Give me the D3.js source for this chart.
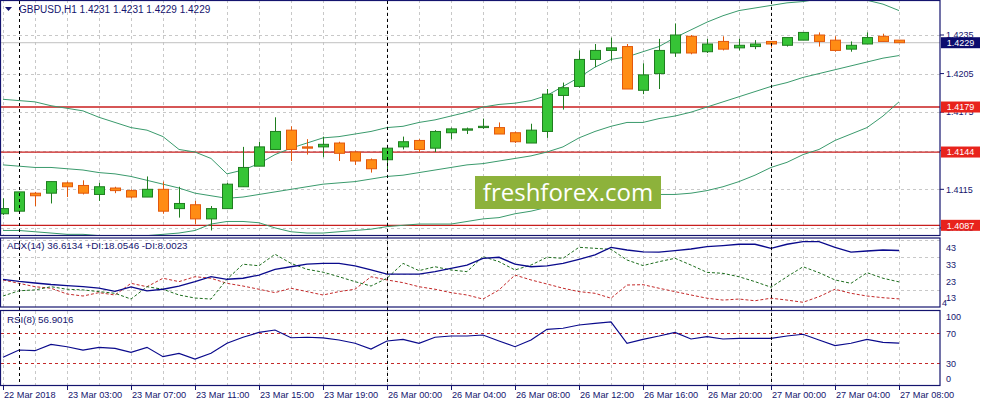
<!DOCTYPE html>
<html>
<head>
<meta charset="utf-8">
<script src="https://cdn.jsdelivr.net/npm/d3@7"></script>
<style>
  body { margin: 0; background: #ffffff; }
  svg text { font-family: "Liberation Sans", Arial, sans-serif; }
</style>
</head>
<body>
<div id="chart"></div>
<script>

// GBPUSD H1, 22 Mar 23:00 .. 27 Mar 08:00 (57 bars)
let opens = [1.4096,1.4098,1.4112,1.4112,1.4120,1.4118,1.4111,1.4116,1.4114,1.4109,
             1.4115,1.4100,1.4103,1.4092,1.4100,1.4117,1.4133,1.4146,1.4161,1.4148,
             1.4148,1.4151,1.4144,1.4138,1.4138,1.4148,1.4153,1.4147,1.4159,1.4161,
             1.4163,1.4163,1.4159,1.4151,1.4160,1.4188,1.4195,1.4216,1.4223,1.4226,
             1.4192,1.4205,1.4221,1.4234,1.4222,1.4230,1.4225,1.4226,1.4230,1.4227,
             1.4231,1.4235,1.4231,1.4224,1.4228,1.4234,1.4231];
let highs = [1.4108,1.4113,1.4113,1.4121,1.4121,1.4122,1.4120,1.4117,1.4115,1.4125,
             1.4121,1.4117,1.4106,1.4102,1.4120,1.4148,1.4152,1.4171,1.4164,1.4154,
             1.4156,1.4152,1.4145,1.4139,1.4147,1.4156,1.4154,1.4161,1.4163,1.4163,
             1.4170,1.4167,1.4160,1.4166,1.4193,1.4198,1.4223,1.4228,1.4233,1.4228,
             1.4213,1.4232,1.4244,1.4235,1.4232,1.4234,1.4232,1.4231,1.4230,1.4233,
             1.4237,1.4237,1.4234,1.4230,1.4237,1.4236,1.4231];
let lows = [1.4095,1.4098,1.4102,1.4104,1.4109,1.4111,1.4106,1.4112,1.4108,1.4109,
            1.4096,1.4093,1.4088,1.4083,1.4100,1.4117,1.4133,1.4146,1.4137,1.4142,
            1.4140,1.4137,1.4134,1.4128,1.4129,1.4146,1.4144,1.4144,1.4154,1.4158,
            1.4162,1.4158,1.4151,1.4151,1.4155,1.4177,1.4194,1.4210,1.4215,1.4193,
            1.4189,1.4193,1.4218,1.4220,1.4221,1.4223,1.4223,1.4224,1.4225,1.4226,
            1.4231,1.4226,1.4222,1.4222,1.4228,1.4230,1.4229];
let closes = [1.4100,1.4113,1.4110,1.4121,1.4117,1.4112,1.4117,1.4114,1.4109,1.4115,
              1.4098,1.4104,1.4092,1.4100,1.4119,1.4132,1.4148,1.4160,1.4146,1.4147,
              1.4150,1.4143,1.4137,1.4131,1.4147,1.4152,1.4146,1.4160,1.4162,1.4162,
              1.4164,1.4158,1.4152,1.4161,1.4189,1.4194,1.4216,1.4223,1.4225,1.4193,
              1.4204,1.4223,1.4235,1.4221,1.4228,1.4224,1.4227,1.4228,1.4228,1.4233,
              1.4237,1.4230,1.4223,1.4227,1.4233,1.4230,1.4229];

// Bollinger bands
let bbUpper = [1.4185,1.4184,1.4183,1.4180,1.4178,1.4176,1.4171,1.4167,1.4163,1.4161,
               1.4156,1.4146,1.4144,1.4139,1.4127,1.4130,1.4135,1.4142,1.4147,1.4151,
               1.4155,1.4156,1.4158,1.4160,1.4163,1.4164,1.4167,1.4169,1.4172,1.4175,
               1.4179,1.4181,1.4182,1.4184,1.4188,1.4195,1.4202,1.4210,1.4216,1.4218,
               1.4222,1.4226,1.4233,1.4239,1.4245,1.4250,1.4254,1.4256,1.4258,1.4260,
               1.4261,1.4263,1.4264,1.4263,1.4262,1.4259,1.4254];
let bbMiddle = [1.4134,1.4133,1.4132,1.4132,1.4131,1.4130,1.4128,1.4127,1.4125,1.4122,
                1.4119,1.4116,1.4112,1.4110,1.4108,1.4109,1.4111,1.4113,1.4115,1.4117,
                1.4119,1.4120,1.4121,1.4123,1.4125,1.4126,1.4128,1.4130,1.4132,1.4134,
                1.4135,1.4137,1.4139,1.4141,1.4144,1.4148,1.4155,1.4160,1.4164,1.4167,
                1.4167,1.4170,1.4172,1.4175,1.4179,1.4183,1.4187,1.4191,1.4195,1.4198,
                1.4202,1.4205,1.4208,1.4211,1.4214,1.4217,1.4219];
let bbLower = [1.4083,1.4083,1.4082,1.4081,1.4080,1.4080,1.4079,1.4079,1.4079,1.4079,
               1.4080,1.4081,1.4083,1.4088,1.4090,1.4090,1.4089,1.4085,1.4082,1.4081,
               1.4081,1.4082,1.4083,1.4084,1.4086,1.4087,1.4088,1.4088,1.4088,1.4090,
               1.4092,1.4093,1.4096,1.4098,1.4101,1.4104,1.4107,1.4109,1.4111,1.4111,
               1.4112,1.4111,1.4111,1.4112,1.4114,1.4117,1.4121,1.4126,1.4132,1.4136,
               1.4142,1.4146,1.4153,1.4158,1.4163,1.4172,1.4183];

// ADX(14)
let adx = [19.5,18.3,17.4,16.5,15.9,15.3,14.4,12.5,15.1,12.7,
           13.7,15.6,18.2,21.2,19.6,20.2,22.1,25.5,27.0,28.5,
           29.0,29.0,27.5,25.1,22.7,22.7,22.7,24.1,26.1,28.0,
           32.0,32.6,28.5,27.0,27.5,29.0,31.4,34.0,38.5,36.9,
           35.8,35.6,36.5,37.5,38.9,39.5,40.3,40.3,37.9,40.3,
           41.8,41.8,38.5,35.6,36.3,36.9,36.6];
let plusDI = [9.7,12.8,13.3,15.2,13.7,13.3,12.3,11.3,7.9,15.2,
              13.7,10.3,8.5,7.9,19.6,28.5,27.6,34.4,29.0,25.5,
              23.8,21.1,18.2,15.6,20.2,29.0,24.7,27.0,25.1,24.1,
              33.0,30.0,25.1,28.0,32.6,32.0,38.5,37.9,37.3,31.0,
              27.7,30.0,32.0,28.0,23.7,23.1,21.1,18.2,14.9,21.1,
              27.0,23.5,19.2,17.2,23.5,20.2,18.05];
let minusDI = [19.2,17.2,15.2,14.3,10.9,9.7,11.7,10.3,17.2,15.2,
               20.2,18.2,21.1,20.2,17.2,15.6,13.7,11.7,14.3,12.3,
               10.3,12.3,13.7,21.1,19.2,17.6,15.2,13.7,11.7,10.3,
               7.9,13.3,22.1,19.2,16.8,14.3,12.3,11.3,8.4,16.2,
               16.4,14.3,12.3,10.3,8.4,7.3,7.9,6.9,8.4,7.3,
               6.0,9.3,13.7,11.3,9.7,8.7,8.0];

// RSI(8)
let rsi = [38.0,47.7,46.8,55.3,52.1,47.7,51.3,50.0,44.7,51.3,
           38.8,43.3,35.7,43.3,56.7,64.7,71.3,74.4,64.1,64.7,
           64.0,61.1,56.7,49.1,59.7,62.0,56.7,64.7,66.4,66.4,
           67.7,59.7,52.1,61.1,75.3,76.7,81.1,83.3,85.1,56.7,
           62.0,66.4,71.3,62.4,65.5,62.4,63.3,63.3,63.3,66.4,
           68.7,61.1,53.5,56.7,62.0,58.0,56.9];

let timeLabels = ["22 Mar 2018","23 Mar 03:00","23 Mar 07:00","23 Mar 11:00","23 Mar 15:00",
                  "23 Mar 19:00","26 Mar 00:00","26 Mar 04:00","26 Mar 08:00","26 Mar 12:00",
                  "26 Mar 16:00","26 Mar 20:00","27 Mar 00:00","27 Mar 04:00","27 Mar 08:00"];
let timeLabelIdx = [0,4,8,12,16,20,24,28,32,36,40,44,48,52,56];
let daySeparators = [1,24,48];

let priceTicks = ["1.4235","1.4205","1.4175","1.4145","1.4115","1.4085"];
let levels = [1.4179, 1.4144, 1.4087];
let lastPrice = 1.4229;
let adxTicks = [43,33,23,13];
let rsiTicks = [100,70,30,0];
let rsiLevels = [70,30];

let header = "GBPUSD,H1  1.4231 1.4231 1.4229 1.4229";
let adxHeader = "ADX(14) 36.6134 +DI:18.0546 -DI:8.0023";
let rsiHeader = "RSI(8) 56.9016";

//////////////////////////////////////////////////////////////

let navy = "#14146e";
let right = 940;
let panels = {
  main: {top: 0.5, bottom: 235.5},
  adx:  {top: 238, bottom: 307},
  rsi:  {top: 310.5, bottom: 385.5}
};

let svg = d3.select("#chart").append("svg")
  .attr("width", 981)
  .attr("height", 401)
  .style("background", "#ffffff");

let x = d3.scaleLinear().domain([0, 56]).range([3, 899]);
let y = d3.scaleLinear().domain([1.4085, 1.4235]).range([227.9, 35]);
let yAdx = d3.scaleLinear().domain([3.5, 44]).range([306.5, 238]);
let yRsi = d3.scaleLinear().domain([0, 100]).range([385.8, 310.8]);

let defs = svg.append("defs");
Object.keys(panels).forEach(function(k) {
  defs.append("clipPath").attr("id", "clip-" + k)
    .append("rect")
    .attr("x", 1).attr("y", panels[k].top)
    .attr("width", right - 1).attr("height", panels[k].bottom - panels[k].top);
});

let gMain = svg.append("g").attr("clip-path", "url(#clip-main)");
let gAdx = svg.append("g").attr("clip-path", "url(#clip-adx)");
let gRsi = svg.append("g").attr("clip-path", "url(#clip-rsi)");

// dashed grid lines
function gridStyle(selection) {
  selection.attr("stroke", "#c8c8c8")
    .attr("stroke-width", 1)
    .attr("stroke-dasharray", "3,3")
    .attr("shape-rendering", "crispEdges");
}

let gridIdx = d3.range(0, 57, 2);
[["main", gMain], ["adx", gAdx], ["rsi", gRsi]].forEach(function(p) {
  p[1].selectAll("line.vgrid")
    .data(gridIdx)
    .enter()
    .append("line")
    .attr("class", "vgrid")
    .attr("x1", function(d) { return Math.round(x(d)) + 0.5; })
    .attr("x2", function(d) { return Math.round(x(d)) + 0.5; })
    .attr("y1", panels[p[0]].top)
    .attr("y2", panels[p[0]].bottom)
    .call(gridStyle);
});

gMain.selectAll("line.hgrid")
  .data(priceTicks)
  .enter()
  .append("line")
  .attr("x1", 1).attr("x2", right)
  .attr("y1", function(d) { return Math.round(y(+d)) + 0.5; })
  .attr("y2", function(d) { return Math.round(y(+d)) + 0.5; })
  .call(gridStyle);

gAdx.selectAll("line.hgrid")
  .data(adxTicks)
  .enter()
  .append("line")
  .attr("x1", 1).attr("x2", right)
  .attr("y1", function(d) { return Math.round(yAdx(d)) + 0.5; })
  .attr("y2", function(d) { return Math.round(yAdx(d)) + 0.5; })
  .call(gridStyle);

// current price line
gMain.append("line")
  .attr("x1", 1).attr("x2", right)
  .attr("y1", y(lastPrice)).attr("y2", y(lastPrice))
  .attr("stroke", "#c0c0c0")
  .attr("stroke-width", 1);

// horizontal levels
gMain.selectAll("line.level")
  .data(levels)
  .enter()
  .append("line")
  .attr("x1", 1).attr("x2", right)
  .attr("y1", function(d) { return y(d); })
  .attr("y2", function(d) { return y(d); })
  .attr("stroke", "#c81e1e")
  .attr("stroke-width", 1.3);

// Bollinger bands
let bandLine = d3.line()
  .x(function(d, i) { return x(i); })
  .y(function(d) { return y(d); });

gMain.selectAll("path.band")
  .data([bbUpper, bbMiddle, bbLower])
  .enter()
  .append("path")
  .attr("d", bandLine)
  .attr("fill", "none")
  .attr("stroke", "#3a9a6c")
  .attr("stroke-width", 1);

// watermark
gMain.append("rect")
  .attr("x", 475).attr("y", 176)
  .attr("width", 186).attr("height", 33)
  .attr("fill", "#8db23b");
gMain.append("text")
  .attr("x", 568).attr("y", 201)
  .attr("text-anchor", "middle")
  .style("font-family", "'Open Sans', 'Noto Sans', sans-serif")
  .style("font-size", "24px")
  .attr("fill", "#ffffff")
  .text("freshforex.com");

// day separators
svg.selectAll("line.sep")
  .data(daySeparators)
  .enter()
  .append("line")
  .attr("x1", function(d) { return Math.round(x(d)) + 0.5; })
  .attr("x2", function(d) { return Math.round(x(d)) + 0.5; })
  .attr("y1", 1).attr("y2", 385)
  .attr("stroke", "#000000")
  .attr("stroke-width", 1)
  .attr("stroke-dasharray", "3,3")
  .attr("shape-rendering", "crispEdges");

// candles
let candles = gMain.selectAll("g.candle")
  .data(d3.range(opens.length))
  .enter()
  .append("g");

function isUp(i) { return closes[i] >= opens[i]; }

candles.append("line")
  .attr("x1", function(i) { return Math.round(x(i)) + 0.5; })
  .attr("x2", function(i) { return Math.round(x(i)) + 0.5; })
  .attr("y1", function(i) { return y(highs[i]); })
  .attr("y2", function(i) { return y(lows[i]); })
  .attr("stroke", function(i) { return isUp(i) ? "#1f7d1f" : "#e2580c"; })
  .attr("stroke-width", 1);

candles.append("rect")
  .attr("x", function(i) { return Math.round(x(i)) - 4.5; })
  .attr("width", 10)
  .attr("y", function(i) { return y(Math.max(opens[i], closes[i])); })
  .attr("height", function(i) { return Math.max(1, Math.abs(y(opens[i]) - y(closes[i]))); })
  .attr("fill", function(i) { return isUp(i) ? "#36c436" : "#ff8c14"; })
  .attr("stroke", function(i) { return isUp(i) ? "#1f7d1f" : "#e2580c"; })
  .attr("stroke-width", 1);

// ADX panel lines
let adxLine = d3.line()
  .x(function(d, i) { return x(i); })
  .y(function(d) { return yAdx(d); });

gAdx.append("path").datum(minusDI)
  .attr("d", adxLine).attr("fill", "none")
  .attr("stroke", "#c42a2a").attr("stroke-width", 1)
  .attr("stroke-dasharray", "3,2");
gAdx.append("path").datum(plusDI)
  .attr("d", adxLine).attr("fill", "none")
  .attr("stroke", "#1e6e1e").attr("stroke-width", 1)
  .attr("stroke-dasharray", "3,2");
gAdx.append("path").datum(adx)
  .attr("d", adxLine).attr("fill", "none")
  .attr("stroke", "#0a0a8c").attr("stroke-width", 1.3);

// RSI panel
gRsi.selectAll("line.rlevel")
  .data(rsiLevels)
  .enter()
  .append("line")
  .attr("x1", 1).attr("x2", right)
  .attr("y1", function(d) { return Math.round(yRsi(d)) + 0.5; })
  .attr("y2", function(d) { return Math.round(yRsi(d)) + 0.5; })
  .attr("stroke", "#c42a2a")
  .attr("stroke-width", 1)
  .attr("stroke-dasharray", "3,3");

let rsiLine = d3.line()
  .x(function(d, i) { return x(i); })
  .y(function(d) { return yRsi(d); });

gRsi.append("path").datum(rsi)
  .attr("d", rsiLine).attr("fill", "none")
  .attr("stroke", "#0a0a8c").attr("stroke-width", 1.2);

// frames
Object.keys(panels).forEach(function(k) {
  svg.append("rect")
    .attr("x", 0.5).attr("y", panels[k].top)
    .attr("width", right - 0.5).attr("height", panels[k].bottom - panels[k].top)
    .attr("fill", "none")
    .attr("stroke", navy)
    .attr("stroke-width", 1.2);
});

// axis text
function axisText(selection, size) {
  selection.attr("fill", navy)
    .style("font-size", size + "px");
}

svg.selectAll("text.ptick")
  .data(priceTicks)
  .enter()
  .append("text")
  .attr("x", 946)
  .attr("y", function(d) { return y(+d) + 3.3; })
  .call(axisText, 9)
  .text(function(d) { return d; });

svg.selectAll("line.ptick")
  .data(priceTicks)
  .enter()
  .append("line")
  .attr("x1", right).attr("x2", right + 4)
  .attr("y1", function(d) { return y(+d); })
  .attr("y2", function(d) { return y(+d); })
  .attr("stroke", navy);

// price boxes
function priceBox(value, color) {
  svg.append("rect")
    .attr("x", 941).attr("y", y(value) - 5.5)
    .attr("width", 39).attr("height", 11)
    .attr("fill", color);
  svg.append("text")
    .attr("x", 960.5).attr("y", y(value) + 3.3)
    .attr("text-anchor", "middle")
    .attr("fill", "#ffffff")
    .style("font-size", "9px")
    .text(value.toFixed(4));
}
levels.forEach(function(v) { priceBox(v, "#e8231c"); });
priceBox(lastPrice, "#0c0c6e");

svg.selectAll("text.atick")
  .data(adxTicks)
  .enter()
  .append("text")
  .attr("x", 946)
  .attr("y", function(d) { return yAdx(d) + 11; })
  .call(axisText, 9)
  .text(function(d) { return d; });
svg.append("text")
  .attr("x", 942).attr("y", 306)
  .call(axisText, 9)
  .text("4");

svg.selectAll("text.rtick")
  .data(rsiTicks)
  .enter()
  .append("text")
  .attr("x", 946)
  .attr("y", function(d) { return Math.min(382, Math.max(320, yRsi(d) + 3.3)); })
  .call(axisText, 9)
  .text(function(d) { return d; });

// time axis
svg.selectAll("text.time")
  .data(timeLabelIdx)
  .enter()
  .append("text")
  .attr("x", function(d) { return x(d) + 1; })
  .attr("y", 398)
  .call(axisText, 9.2)
  .text(function(d, i) { return timeLabels[i]; });

svg.selectAll("line.ttick")
  .data(timeLabelIdx)
  .enter()
  .append("line")
  .attr("x1", function(d) { return Math.round(x(d)) + 0.5; })
  .attr("x2", function(d) { return Math.round(x(d)) + 0.5; })
  .attr("y1", 385.5).attr("y2", 390)
  .attr("stroke", navy);

// headers
svg.append("path")
  .attr("d", "M5,7 L12,7 L8.5,11 Z")
  .attr("fill", navy);
svg.append("text")
  .attr("x", 19).attr("y", 13)
  .call(axisText, 10)
  .text(header);
svg.append("text")
  .attr("x", 7).attr("y", 249)
  .call(axisText, 9.8)
  .text(adxHeader);
svg.append("text")
  .attr("x", 7).attr("y", 323)
  .call(axisText, 9.8)
  .text(rsiHeader);

</script>
</body>
</html>
